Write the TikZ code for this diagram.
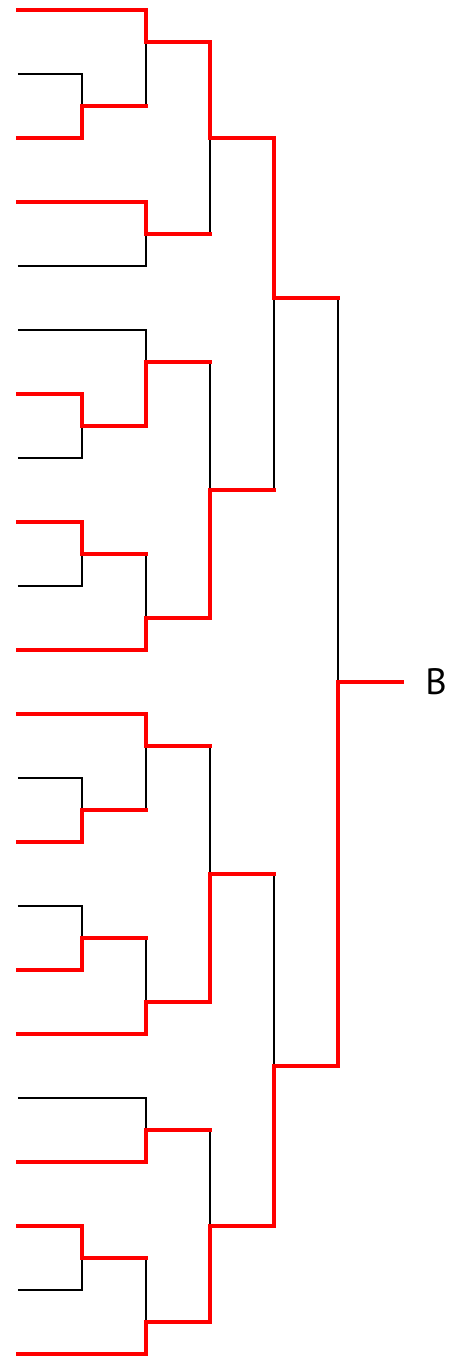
\documentclass[tikz,border=0pt]{standalone}
\usepackage{fontspec}
\setmainfont{PT Sans}
\usetikzlibrary{positioning}

\begin{document}
\begin{tikzpicture}[x=1cm, y=1cm,
    sieg/.style={draw=red, line width=2.2pt, line cap=rect},
    aus/.style={draw=black, line width=1.2pt}]
  \useasboundingbox (-0.28125,0.15625) rectangle (6.859375,-21.046875);

  % Blätter
  \foreach \k in {1,...,22} {
      \coordinate (l\k) at (0,{1-\k});
  }
  % Spiele
  \foreach \n/\sp/\zl in {a1/1/3, a2/1/13, a3/1/17, a4/1/25, a5/1/29, a6/1/39,
                          b1/2/1, b2/2/7, b3/2/11, b4/2/19, b5/2/23, b6/2/31, b7/2/35, b8/2/41,
                          c1/3/4, c2/3/15, c3/3/27, c4/3/38,
                          d1/4/9, d2/4/33,
                          e/5/21} {
      \coordinate (\n) at (\sp,-\zl/2);
  }

  % Verlierer
  \foreach \v/\p in {l2/a1, l8/a2, l10/a3, l13/a4, l15/a5, l21/a6,
                     a1/b1, l5/b2, l6/b3, a3/b4, a4/b5, a5/b6, l18/b7, a6/b8,
                     b2/c1, b3/c2, b5/c3, b7/c4, c2/d1, c3/d2, d1/e} {
      \draw[aus] (\v) -| (\p);
  }
  \foreach \v/\p in {a1/b1, a3/b4, a4/b5, a5/b6, a6/b8,
                     b2/c1, b3/c2, b5/c3, b7/c4, c2/d1, c3/d2, d1/e} {
      \draw[sieg] (\v) -- (\v -| \p);
  }

  % Sieger
  \foreach \w/\p in {l3/a1, l7/a2, l9/a3, l14/a4, l16/a5, l20/a6,
                     l1/b1, l4/b2, a2/b3, l11/b4, l12/b5, l17/b6, l19/b7, l22/b8,
                     b1/c1, b4/c2, b6/c3, b8/c4, c1/d1, c4/d2, d2/e} {
      \draw[sieg] (\w) -| (\p);
  }

  % Ausgang
  \coordinate (ziel) at (6,-10.5);
  \node[right=0.36cm of ziel, inner sep=0pt, font=\fontsize{16.3}{18}\selectfont] (sieger) {B};
  \draw[sieg] (e) -- (ziel);
\end{tikzpicture}
\end{document}
